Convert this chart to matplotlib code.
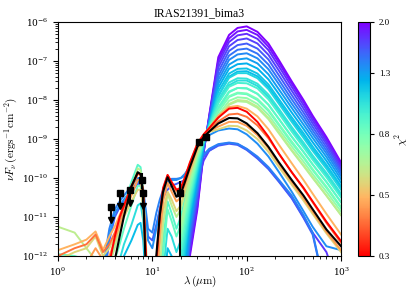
import numpy as np
import matplotlib.pyplot as plt
from matplotlib.colors import LogNorm
from matplotlib.cm import ScalarMappable

plt.rcParams['font.family'] = 'serif'
plt.rcParams['font.serif'] = ['Liberation Serif', 'DejaVu Serif']
plt.rcParams['mathtext.fontset'] = 'cm'

# wavelength grids (micron)
lam = [1, 1.5, 2, 2.5, 3, 3.5, 4, 4.5, 5, 6, 7, 7.5, 8, 8.5, 9, 10, 11, 12, 13, 14.5,
       16, 18, 20, 22, 25, 30, 35, 40, 50, 65, 80, 100, 130, 170, 220, 300, 400, 500, 700, 1000]
lam_fir = [20, 22, 25, 30, 35, 40, 50, 65, 80, 100, 130, 170, 220, 300, 400, 500, 700, 1000]

# model SEDs: log10(nu F_nu / erg s-1 cm-2), -13 = below the axis
# far-IR only models (on lam_fir)
u01 = [-13, -13, -12.0, -10.8, -9.35, -8.4, -6.9, -6.33, -6.15, -6.11, -6.25, -6.55, -6.98, -7.52, -8.0, -8.4, -8.95, -9.6]
u02 = [-13, -13, -11.9, -10.72, -9.32, -8.43, -6.98, -6.42, -6.24, -6.2, -6.33, -6.63, -7.05, -7.58, -8.05, -8.45, -9.0, -9.64]
u03 = [-13, -13, -11.8, -10.63, -9.3, -8.46, -7.06, -6.51, -6.34, -6.3, -6.43, -6.72, -7.14, -7.66, -8.13, -8.52, -9.06, -9.7]
u04 = [-13, -13, -11.68, -10.52, -9.27, -8.49, -7.16, -6.62, -6.46, -6.42, -6.55, -6.84, -7.25, -7.76, -8.22, -8.6, -9.13, -9.76]
u05 = [-13, -13, -11.55, -10.42, -9.24, -8.52, -7.27, -6.74, -6.59, -6.55, -6.68, -6.96, -7.37, -7.87, -8.32, -8.69, -9.21, -9.82]
u06 = [-13, -13, -11.42, -10.3, -9.21, -8.55, -7.38, -6.86, -6.71, -6.68, -6.81, -7.09, -7.49, -7.98, -8.42, -8.78, -9.29, -9.88]
u07 = [-13, -13, -11.3, -10.2, -9.18, -8.57, -7.48, -6.97, -6.83, -6.8, -6.93, -7.21, -7.6, -8.09, -8.52, -8.87, -9.37, -9.95]
u08 = [-13, -12.4, -11.18, -10.1, -9.15, -8.6, -7.58, -7.09, -6.96, -6.93, -7.06, -7.34, -7.73, -8.2, -8.63, -8.97, -9.46, -10.03]
u09 = [-13, -12.2, -11.05, -10.0, -9.12, -8.62, -7.68, -7.2, -7.08, -7.06, -7.19, -7.47, -7.85, -8.32, -8.74, -9.08, -9.56, -10.12]
u10 = [-13, -12.0, -10.92, -9.9, -9.1, -8.64, -7.78, -7.32, -7.2, -7.19, -7.32, -7.6, -7.98, -8.44, -8.85, -9.19, -9.66, -10.21]
u11 = [-12.6, -11.8, -10.8, -9.8, -9.07, -8.66, -7.88, -7.43, -7.31, -7.31, -7.44, -7.72, -8.1, -8.56, -8.97, -9.3, -9.76, -10.3]
u12 = [-12.3, -11.6, -10.67, -9.72, -9.05, -8.68, -7.98, -7.55, -7.44, -7.45, -7.58, -7.86, -8.23, -8.69, -9.09, -9.42, -9.87, -10.4]
u13 = [-12.0, -11.4, -10.55, -9.64, -9.03, -8.7, -8.08, -7.66, -7.56, -7.57, -7.7, -7.98, -8.35, -8.81, -9.21, -9.53, -9.98, -10.5]
u14 = [-11.8, -11.2, -10.42, -9.56, -9.01, -8.71, -8.18, -7.78, -7.69, -7.7, -7.84, -8.12, -8.49, -8.94, -9.33, -9.65, -10.1, -10.62]
u15 = [-11.6, -11.0, -10.3, -9.48, -8.99, -8.72, -8.28, -7.9, -7.81, -7.83, -7.97, -8.25, -8.62, -9.06, -9.45, -9.77, -10.22, -10.74]
u16 = [-11.4, -10.85, -10.15, -9.42, -8.97, -8.73, -8.38, -8.02, -7.93, -7.95, -8.1, -8.38, -8.75, -9.19, -9.58, -9.9, -10.35, -10.86]
u17 = [-11.2, -10.7, -10.0, -9.36, -8.95, -8.74, -8.46, -8.12, -8.03, -8.05, -8.2, -8.49, -8.86, -9.3, -9.69, -10.0, -10.45, -10.95]
l03 = [-13, -12.5, -11.2, -10.1, -9.55, -9.3, -9.15, -9.1, -9.13, -9.26, -9.48, -9.75, -10.08, -10.5, -11.0, -11.4, -11.9, -13]

fir_chi2 = [2.0, 1.9, 1.8, 1.7, 1.6, 1.5, 1.42, 1.34, 1.26, 1.18, 1.1, 1.02, 0.95, 0.88, 0.8, 0.72, 0.66, 1.75]
fir_models = [u01, u02, u03, u04, u05, u06, u07, u08, u09, u10, u11, u12, u13, u14, u15, u16, u17, l03]

# full-range models (on lam)
l02 = [-13, -13, -13, -13, -12.8, -11.6, -11.0, -10.75, -10.6, -10.35, -10.15, -10.15, -10.45, -11.0, -11.5, -11.6, -11.2, -10.8, -10.5, -10.3,
       -10.2, -10.15, -10.1, -10.05, -9.98, -9.7, -9.45, -9.3, -9.17, -9.12, -9.15, -9.28, -9.5, -9.77, -10.1, -10.52, -11.02, -11.45, -13, -13]
l01 = [-13, -13, -13, -13, -12.3, -11.3, -10.8, -10.6, -10.45, -10.2, -10.0, -10.0, -10.3, -10.8, -11.3, -11.4, -10.9, -10.55, -10.3, -10.1,
       -10.02, -10.02, -10.0, -9.95, -9.85, -9.6, -9.4, -9.25, -9.13, -9.09, -9.12, -9.25, -9.45, -9.72, -10.05, -10.45, -10.95, -11.4, -13, -13]
b01 = [-13, -13, -13, -13, -12.5, -11.5, -10.9, -10.7, -10.55, -10.3, -10.1, -10.1, -10.4, -11.0, -11.6, -11.8, -11.3, -10.8, -10.4, -10.15,
       -10.05, -10.05, -10.0, -9.9, -9.7, -9.3, -9.05, -8.9, -8.78, -8.73, -8.75, -8.88, -9.12, -9.45, -9.85, -10.35, -10.85, -11.25, -11.75, -11.85]
g05 = [-13, -13, -12.3, -12.2, -12.6, -12.8, -12.6, -12.3, -12.0, -11.6, -11.2, -11.15, -11.6, -12.6, -13, -13, -13, -13, -13, -11.8,
       -12.0, -12.4, -12.2, -11.5, -10.75, -9.85, -9.08, -8.66, -7.9, -7.4, -7.27, -7.26, -7.39, -7.67, -8.05, -8.51, -8.92, -9.26, -9.72, -10.25]
g03 = [-12.0, -12.05, -12.2, -12.5, -13, -13, -12.5, -12.1, -11.7, -11.2, -10.7, -10.65, -11.1, -12.3, -13, -13, -13, -13, -12.4, -11.3,
       -11.5, -11.9, -11.6, -11.0, -10.5, -9.7, -9.05, -8.7, -8.05, -7.62, -7.5, -7.5, -7.64, -7.92, -8.29, -8.75, -9.15, -9.48, -9.93, -10.45]
g04 = [-13, -13, -13, -13, -13, -12.4, -11.6, -11.1, -10.7, -10.1, -9.66, -9.72, -10.3, -11.8, -13, -13, -13, -12.6, -11.6, -10.6,
       -10.9, -11.3, -11.0, -10.55, -10.05, -9.42, -9.0, -8.73, -8.25, -7.8, -7.69, -7.7, -7.84, -8.12, -8.49, -8.94, -9.33, -9.65, -10.1, -10.62]
g02 = [-11.95, -12.0, -12.1, -12.3, -12.6, -12.5, -12.1, -11.7, -11.3, -10.7, -10.2, -10.2, -10.7, -12.0, -13, -13, -13, -13, -12.0, -10.8,
       -11.1, -11.5, -11.2, -10.7, -10.2, -9.5, -9.0, -8.72, -8.3, -7.92, -7.83, -7.85, -8.0, -8.28, -8.65, -9.1, -9.48, -9.8, -10.25, -10.77]
g01 = [-11.25, -11.4, -11.8, -12.1, -12.4, -12.2, -11.8, -11.3, -10.9, -10.3, -9.75, -9.8, -10.4, -11.5, -13, -13, -13, -12.3, -11.2, -10.4,
       -10.7, -11.0, -10.8, -10.4, -9.95, -9.35, -8.98, -8.76, -8.45, -8.1, -8.0, -8.02, -8.17, -8.46, -8.83, -9.28, -9.67, -9.98, -10.45, -10.95]
o04 = [-12.1, -11.9, -11.8, -11.5, -12.0, -11.8, -11.5, -11.25, -11.0, -10.6, -10.3, -10.3, -10.75, -12.3, -13, -13, -13, -11.7, -10.85, -10.35,
       -10.55, -10.85, -10.7, -10.35, -9.88, -9.28, -8.98, -8.82, -8.75, -8.66, -8.67, -8.78, -9.0, -9.33, -9.72, -10.17, -10.58, -10.92, -11.42, -11.9]
o03 = [-13, -13, -12.2, -11.8, -12.1, -12.0, -11.6, -11.2, -10.9, -10.45, -10.05, -10.05, -10.5, -12.2, -13, -13, -13, -11.4, -10.6, -10.12,
       -10.35, -10.6, -10.5, -10.2, -9.78, -9.22, -8.95, -8.8, -8.68, -8.56, -8.56, -8.66, -8.9, -9.24, -9.64, -10.1, -10.52, -10.86, -11.38, -11.85]
o01 = [-11.85, -11.7, -11.58, -11.37, -11.84, -11.5, -11.24, -10.95, -10.7, -10.25, -9.9, -9.92, -10.4, -11.7, -13, -13, -12.5, -11.1, -10.35, -9.96,
       -10.15, -10.35, -10.28, -10.0, -9.62, -9.12, -8.88, -8.72, -8.4, -8.18, -8.15, -8.22, -8.42, -8.75, -9.15, -9.62, -10.05, -10.4, -10.92, -11.45]
o02 = [-12.0, -11.8, -11.7, -11.45, -11.9, -11.7, -11.4, -11.05, -10.75, -10.28, -9.87, -9.9, -10.38, -12.0, -13, -13, -12.2, -11.0, -10.3, -9.93,
       -10.12, -10.32, -10.3, -10.05, -9.68, -9.17, -8.92, -8.77, -8.55, -8.37, -8.35, -8.43, -8.65, -8.98, -9.38, -9.85, -10.27, -10.62, -11.15, -11.66]
r01 = [-13, -13, -13, -13, -13, -12.2, -11.5, -11.0, -10.7, -10.2, -9.88, -9.9, -10.4, -11.8, -13, -13, -12.2, -10.9, -10.25, -9.92,
       -10.1, -10.3, -10.25, -10.0, -9.6, -9.12, -8.88, -8.72, -8.45, -8.22, -8.2, -8.3, -8.56, -8.94, -9.38, -9.85, -10.25, -10.6, -11.12, -11.62]

full_chi2 = [1.6, 1.45, 1.4, 1.2, 1.05, 0.9, 0.85, 0.62, 0.55, 0.45, 0.48, 0.4, 0.3]
full_models = [l02, l01, b01, g05, g03, g04, g02, g01, o04, o03, o01, o02, r01]

best_fit = [-13, -13, -13, -13, -13, -13, -12.1, -11.5, -10.98, -10.22, -9.85, -9.9, -10.4, -12.3, -13, -13, -12.0, -10.95, -10.35, -9.98,
            -10.2, -10.48, -10.4, -10.12, -9.72, -9.2, -8.95, -8.81, -8.6, -8.46, -8.47, -8.6, -8.85, -9.2, -9.6, -10.05, -10.45, -10.8, -11.32, -11.75]

# observed photometry (erg s-1 cm-2)
obs_lam = [7.7, 19.4, 31.5, 37.1]
obs_flux = [9.1e-11, 4.1e-11, 8.5e-10, 1.1e-9]
obs_err = [4.0e-11, 4.05e-11, 1.5e-10, 2.0e-10]
ul_lam = [3.6, 4.5, 5.8, 8.0]
ul_flux = [1.8e-11, 4.1e-11, 4.8e-11, 4.1e-11]

cmap = plt.get_cmap('rainbow_r')
norm = LogNorm(vmin=0.3, vmax=2.0)

fig = plt.figure(figsize=(4.15, 2.98), dpi=100)
ax = fig.add_axes([0.1398, 0.1409, 0.682, 0.785])
cax = fig.add_axes([0.8627, 0.1409, 0.029, 0.785])

# draw high chi2 first so the good fits sit on top
curves = [(c, lam_fir, m) for c, m in zip(fir_chi2, fir_models)]
curves += [(c, lam, m) for c, m in zip(full_chi2, full_models)]
curves.sort(key=lambda t: -t[0])
for c, x, m in curves:
    ax.plot(x, 10.0 ** np.array(m), color=cmap(norm(c)), lw=1.4)

ax.plot(lam, 10.0 ** np.array(best_fit), color='k', lw=1.5)

# detections and upper limits
ax.errorbar(obs_lam, obs_flux, yerr=obs_err, fmt='s', color='k', ms=5, elinewidth=1.5, capsize=0, zorder=5)
ul_flux = np.array(ul_flux)
ax.vlines(ul_lam, ul_flux * 10 ** -0.33, ul_flux, color='k', lw=1.5, zorder=5)
ax.plot(ul_lam, ul_flux * 10 ** -0.33, 'v', color='k', ms=4, zorder=5)
ax.plot(ul_lam, ul_flux, 's', color='k', ms=5, zorder=6)

ax.set_xscale('log')
ax.set_yscale('log')
ax.set_xlim(1, 1000)
ax.set_ylim(1e-12, 1e-6)
ax.set_xlabel(r'$\lambda\,(\mu\mathrm{m})$', fontsize=8)
ax.set_ylabel(r'$\nu F_\nu\,(\mathrm{erg s^{-1} cm^{-2}})$', fontsize=8)
ax.xaxis.set_label_coords(0.5, -0.075)
ax.yaxis.set_label_coords(-0.135, 0.5)
ax.set_title('IRAS21391_bima3', fontsize=8.5, pad=4)
ax.tick_params(labelsize=6.5, labelfontfamily='DejaVu Serif')
ax.tick_params(which='major', length=3.5)
ax.tick_params(which='minor', length=2)

sm = ScalarMappable(norm=norm, cmap=cmap)
cbar = fig.colorbar(sm, cax=cax)
cbar.minorticks_off()
cb_ticks = [0.3, 0.4925, 0.8084, 1.327, 2.0]
cbar.set_ticks(cb_ticks)
cbar.set_ticklabels(['0.3', '0.5', '0.8', '1.3', '2.0'])
cbar.ax.tick_params(labelsize=6.5, length=3)
cbar.set_label(r'$\chi^2$', fontsize=8, labelpad=2)

fig.savefig('out.png', dpi=100)
